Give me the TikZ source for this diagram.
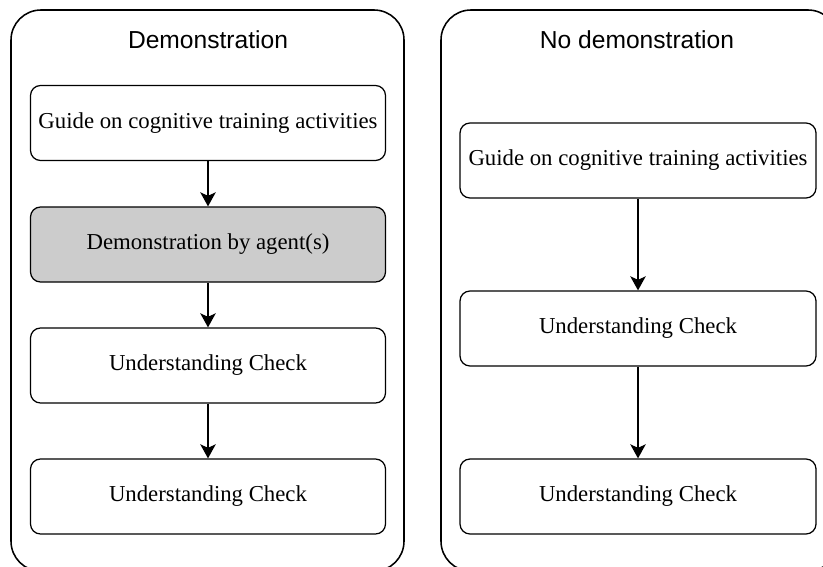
\documentclass[tikz,border=0pt]{standalone}
\usepackage{fontspec}
\setmainfont{Liberation Serif}
\newfontfamily\headfont{Liberation Sans}
\usetikzlibrary{arrows,arrows.meta}

\begin{document}
\begin{tikzpicture}[
panel/.style={rounded corners=0.75cm,line width=1.1pt},
head/.style={font=\headfont\fontsize{17.5}{20}\selectfont},
stage/.style={draw,rounded corners=0.25cm,line width=0.9pt,minimum height=1.875cm,font=\fontsize{16.2}{19}\selectfont},
shaded/.style={fill=black!20},
arrow/.style={-{Stealth[length=10pt,width=11pt,inset=2.5pt]},line width=0.9pt} ]

\useasboundingbox (0,0) rectangle (20.575,-14.175);
\clip (0,0) rectangle (20.575,-14.175);

% the two panels
\draw[panel] (0.275,-0.25) rectangle (10.1,-14.28);
\draw[panel] (11.025,-0.25) rectangle (20.95,-14.28);

\node[head] (T1) at (5.2,-1.0) {Demonstration};
\node[head] (T2) at (15.925,-1.0) {No demonstration};

% left column
\node[stage,minimum width=8.875cm] (G1) at (5.2,-3.075) {Guide on cognitive training activities};

\node[stage,shaded,minimum width=8.875cm] (D1) at (5.2,-6.1125) {Demonstration by agent(s)};

\node[stage,minimum width=8.875cm] (U1) at (5.2,-9.1375) {Understanding Check};

\node[stage,minimum width=8.875cm] (V1) at (5.2,-12.4125) {Understanding Check};

% right column
\node[stage,minimum width=8.9cm] (G2) at (15.95,-4.0125) {Guide on cognitive training activities};

\node[stage,minimum width=8.9cm] (U2) at (15.95,-8.2125) {Understanding Check};

\node[stage,minimum width=8.9cm] (V2) at (15.95,-12.4125) {Understanding Check};

\draw[arrow] (G1) -- (D1);

\draw[arrow] (D1) -- (U1);

\draw[arrow] (U1) -- (V1);

\draw[arrow] (G2) -- (U2);

\draw[arrow] (U2) -- (V2);

\end{tikzpicture}
\end{document}
